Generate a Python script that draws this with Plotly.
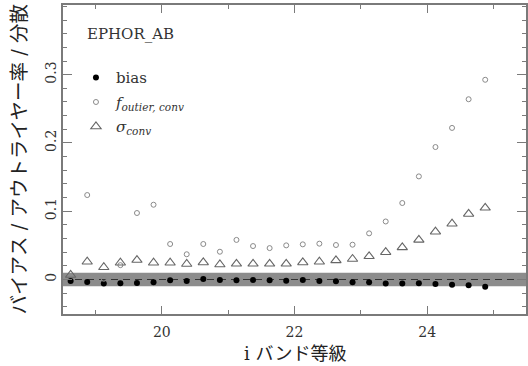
import plotly.graph_objects as go

# ---- data ----
mag = [18.625, 18.875, 19.125, 19.375, 19.625, 19.875, 20.125, 20.375, 20.625,
       20.875, 21.125, 21.375, 21.625, 21.875, 22.125, 22.375, 22.625, 22.875,
       23.125, 23.375, 23.625, 23.875, 24.125, 24.375, 24.625, 24.875]
bias = [-0.002, -0.0037, -0.006, -0.0056, -0.005, -0.004, -0.001, -0.002, 0.0007,
        -0.0007, -0.001, -0.0007, -0.001, -0.0017, -0.0007, -0.002, -0.0027, -0.004,
        -0.004, -0.006, -0.006, -0.0056, -0.0066, -0.0076, -0.0085, -0.0105]
f_outlier = [None, 0.1237, 0.001, 0.021, 0.0974, 0.1095, 0.052, 0.037, 0.052,
             0.0407, 0.058, 0.049, 0.046, 0.050, 0.0515, 0.0525, 0.0505, 0.051,
             0.0676, 0.085, 0.112, 0.151, 0.194, 0.222, 0.264, 0.2925]
sigma = [0.0066, 0.026, 0.018, 0.0246, 0.0285, 0.0246, 0.0246, 0.0227, 0.025,
         0.022, 0.023, 0.023, 0.023, 0.023, 0.025, 0.026, 0.028, 0.030,
         0.034, 0.040, 0.047, 0.058, 0.070, 0.0817, 0.096, 0.105]
band_half = 0.01
x_ticks = [20, 22, 24]
y_ticks = [0, 0.1, 0.2, 0.3]
y_ticktext = ["0", "0.1", "0.2", "0.3"]
label_code = "EPHOR_AB"
x_title = "i バンド等級"
y_title = "バイアス / アウトライヤー率 / 分散"

SERIF = "'DejaVu Serif', 'Liberation Serif', 'Noto Sans CJK JP', serif"
AX = "#7a7a7a"
TXT = "#333333"

fig = go.Figure()
fig.add_trace(go.Scatter(x=mag, y=bias, mode="markers", name="bias",
                         legendgroup="a",
                         marker=dict(symbol="circle", size=6, color="black",
                                     line=dict(width=0))))
fig.add_trace(go.Scatter(x=mag, y=f_outlier, mode="markers",
                         name="<i>f</i><sub><i>outier, conv</i></sub>",
                         legendgroup="b",
                         marker=dict(symbol="circle-open", size=5, color="#8a8a8a",
                                     line=dict(width=1, color="#8a8a8a"))))
fig.add_trace(go.Scatter(x=mag, y=sigma, mode="markers",
                         name="<i>σ</i><sub><i>conv</i></sub>",
                         legendgroup="c",
                         marker=dict(symbol="triangle-up-open", size=9, color="#666666",
                                     line=dict(width=1.1, color="#666666"))))

fig.add_shape(type="rect", xref="paper", x0=0, x1=1, yref="y",
              y0=-band_half, y1=band_half, fillcolor="#8c8c8c",
              line=dict(width=0), layer="below")
fig.add_shape(type="line", xref="paper", x0=0, x1=1, yref="y", y0=0, y1=0,
              line=dict(color="#333333", width=1, dash="7px,5px"), layer="below")

fig.add_annotation(text=label_code, xref="paper", yref="paper", x=0.048, y=0.905,
                   xanchor="left", yanchor="middle", showarrow=False,
                   font=dict(family=SERIF, size=15, color=TXT))
# axis titles
fig.add_annotation(text=x_title, xref="paper", yref="paper", x=0.5, y=-0.128,
                   xanchor="center", yanchor="middle", showarrow=False,
                   font=dict(family=SERIF, size=18, color="#222222"))
fig.add_annotation(text=y_title, xref="paper", yref="paper", x=-0.093, y=0.5,
                   xanchor="center", yanchor="middle", showarrow=False,
                   textangle=-90,
                   font=dict(family=SERIF, size=19.5, color="#222222"))

axis_common = dict(showline=True, linecolor=AX, linewidth=1.5, mirror="ticks",
                   ticks="inside", tickcolor=AX, tickwidth=1, showgrid=False,
                   zeroline=False, automargin=False,
                   tickfont=dict(family=SERIF, size=14, color=TXT))

fig.update_xaxes(range=[18.51, 25.49], tickvals=x_ticks, ticklen=8,
                 ticklabelstandoff=4,
                 minor=dict(dtick=1, tick0=19, ticks="inside", ticklen=4,
                            tickcolor=AX, showgrid=False),
                 **axis_common)
fig.update_yaxes(range=[-0.0505, 0.402], tickvals=y_ticks, ticktext=y_ticktext,
                 ticklen=9, tickangle=-90,
                 minor=dict(dtick=0.02, tick0=0, ticks="inside", ticklen=4,
                            tickcolor=AX, showgrid=False),
                 **axis_common)

fig.update_layout(
    width=528, height=366,
    margin=dict(l=63, r=2, t=5, b=52),
    paper_bgcolor="white", plot_bgcolor="white",
    showlegend=True,
    legend=dict(x=0.028, y=0.818, xanchor="left", yanchor="top",
                bgcolor="rgba(0,0,0,0)", tracegroupgap=2,
                font=dict(family=SERIF, size=15, color=TXT)),
)

fig.write_html("out.html", config={"displayModeBar": False},
               post_script="document.body.style.margin='0';document.body.style.padding='0';")
